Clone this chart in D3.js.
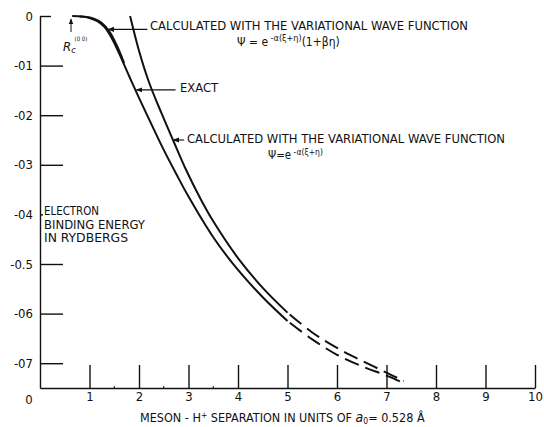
<!DOCTYPE html>
<html>
<head>
<meta charset="utf-8">
<script src="https://cdn.jsdelivr.net/npm/d3@7"></script>
<style>
body { margin: 0; background: #fff; }
svg { display: block; }
text { font-family: 'DejaVu Sans Condensed', 'DejaVu Sans', sans-serif; fill: #111; }
</style>
</head>
<body>
<script>
const w = 544, h = 427

// separation in units of a0 / electron binding energy in rydbergs
const exactX = [0.65, 0.85, 1.0, 1.15, 1.3, 1.45, 1.6, 1.8, 2.0, 2.25, 2.5, 2.75, 3.0, 3.5, 4.0, 4.5, 5.0, 5.5, 6.0, 6.5, 7.0, 7.35]
const exactY = [0, -0.001, -0.004, -0.010, -0.022, -0.045, -0.076, -0.121, -0.165, -0.218, -0.27, -0.318, -0.364, -0.446, -0.512, -0.567, -0.615, -0.652, -0.683, -0.706, -0.725, -0.740]
// psi = e^-a(xi+eta)(1+b eta), drawn only where it separates from the exact curve
const betaX = [0.8, 0.95, 1.1, 1.25, 1.4, 1.55, 1.7]
const betaY = [-0.001, -0.002, -0.006, -0.014, -0.031, -0.059, -0.095]
// psi = e^-a(xi+eta)
const simpleX = [1.82, 2.0, 2.2, 2.45, 2.7, 2.95, 3.25, 3.5, 4.0, 4.5, 5.0, 5.5, 6.0, 6.5, 7.0, 7.35]
const simpleY = [0, -0.07, -0.133, -0.195, -0.253, -0.31, -0.37, -0.414, -0.488, -0.548, -0.598, -0.638, -0.669, -0.695, -0.719, -0.736]
const dashedFrom = 5.0

const xTicks = [1, 2, 3, 4, 5, 6, 7, 8, 9, 10]
const xMinor = [1.5, 2.5, 3.5]
const yTicks = [0, -0.1, -0.2, -0.3, -0.4, -0.5, -0.6, -0.7]
const yTickLabels = ['0', '-01', '-02', '-03', '-04', '-0.5', '-06', '-07']

const svg = d3.select('body').append('svg')
    .attr('width', w)
    .attr('height', h)

const x = d3.scaleLinear().domain([0, 10]).range([40, 535])
const y = d3.scaleLinear().domain([0, -0.75]).range([16, 388])

const defs = svg.append('defs')
defs.append('marker')
    .attr('id', 'arr')
    .attr('viewBox', '0 0 10 10')
    .attr('refX', 9).attr('refY', 5)
    .attr('markerWidth', 6).attr('markerHeight', 6)
    .attr('orient', 'auto-start-reverse')
    .append('path')
    .attr('d', 'M0,1 L10,5 L0,9 z')
    .attr('fill', '#111')

// axes, ticks pointing inwards
const xAxis = d3.axisBottom(x).tickValues(xTicks).tickSizeInner(-23).tickSizeOuter(0).tickPadding(2)
const gx = svg.append('g')
    .attr('transform', `translate(0, ${y(-0.75)})`)
    .call(xAxis)
gx.selectAll('text').attr('font-size', 13).attr('dy', '0.85em')

const yAxis = d3.axisLeft(y).tickValues(yTicks).tickFormat((d, i) => yTickLabels[i])
    .tickSizeInner(-23).tickSizeOuter(0).tickPadding(7)
const gy = svg.append('g')
    .attr('transform', `translate(${x(0)}, 0)`)
    .call(yAxis)
gy.selectAll('text').attr('font-size', 13)
gy.selectAll('.tick line').attr('x2', d => d == 0 ? 11 : d == -0.4 ? 3 : 23)

svg.selectAll('.domain, .tick line').attr('stroke', '#111').attr('stroke-width', 1.4)
svg.selectAll('.tick text').attr('fill', '#111').attr('font-family', "'DejaVu Sans Condensed', sans-serif")

svg.selectAll('.minor')
    .data(xMinor)
    .enter()
    .append('line')
    .attr('x1', d => x(d)).attr('x2', d => x(d))
    .attr('y1', y(-0.75)).attr('y2', y(-0.75) - 2)
    .attr('stroke', '#111')

svg.append('text')
    .attr('x', 29).attr('y', 404)
    .attr('text-anchor', 'middle')
    .attr('font-size', 13)
    .text('0')

// curves
const line = d3.line().x(d => x(d[0])).y(d => y(d[1])).curve(d3.curveCatmullRom)
const exact = exactX.map((v, i) => [v, exactY[i]])
const simple = simpleX.map((v, i) => [v, simpleY[i]])
const beta = betaX.map((v, i) => [v, betaY[i]])

;[exact, simple].forEach(s => {
    svg.append('path')
        .attr('d', line(s.filter(d => d[0] <= dashedFrom)))
        .attr('fill', 'none').attr('stroke', '#111').attr('stroke-width', 2)
    svg.append('path')
        .attr('d', line(s.filter(d => d[0] >= dashedFrom)))
        .attr('fill', 'none').attr('stroke', '#111').attr('stroke-width', 2)
        .attr('stroke-dasharray', '15,7')
        .attr('stroke-dashoffset', -3)
})
svg.append('path')
    .attr('d', line(beta))
    .attr('fill', 'none').attr('stroke', '#111').attr('stroke-width', 2)

// leaders and labels
function leader(tx, ty, len) {
    svg.append('line')
        .attr('x1', x(tx) + 1).attr('y1', y(ty))
        .attr('x2', x(tx) + len).attr('y2', y(ty))
        .attr('stroke', '#111').attr('stroke-width', 1.1)
        .attr('marker-start', 'url(#arr)')
}
leader(1.36, -0.027, 40)
leader(1.93, -0.149, 40)
leader(2.67, -0.25, 12)

svg.append('text')
    .attr('x', 150).attr('y', 30)
    .attr('font-size', 11.5)
    .attr('textLength', 318).attr('lengthAdjust', 'spacingAndGlyphs')
    .text('CALCULATED WITH THE VARIATIONAL WAVE FUNCTION')

let f1 = svg.append('text').attr('x', 237).attr('y', 46).attr('font-size', 12)
f1.append('tspan').text('Ψ = e')
f1.append('tspan').attr('dy', -5).attr('font-size', 9).text(' -α(ξ+η)')
f1.append('tspan').attr('dy', 5).text('(1+βη)')

svg.append('text')
    .attr('x', 180).attr('y', 92)
    .attr('font-size', 11.5)
    .attr('textLength', 38).attr('lengthAdjust', 'spacingAndGlyphs')
    .text('EXACT')

svg.append('text')
    .attr('x', 187).attr('y', 143)
    .attr('font-size', 11.5)
    .attr('textLength', 318).attr('lengthAdjust', 'spacingAndGlyphs')
    .text('CALCULATED WITH THE VARIATIONAL WAVE FUNCTION')

let f2 = svg.append('text').attr('x', 268).attr('y', 159).attr('font-size', 11.5)
f2.append('tspan').text('Ψ=e')
f2.append('tspan').attr('dy', -4).attr('font-size', 8.5).text(' -α(ξ+η)')

// R_c marker
svg.append('line')
    .attr('x1', 71).attr('y1', 32)
    .attr('x2', 71).attr('y2', 19)
    .attr('stroke', '#111').attr('stroke-width', 1)
    .attr('marker-end', 'url(#arr)')
let rc = svg.append('text').attr('x', 63).attr('y', 51).attr('font-size', 13).attr('font-style', 'italic')
rc.append('tspan').text('R')
rc.append('tspan').attr('dy', 2).attr('font-size', 9).text('c')
rc.append('tspan').attr('dy', -12).attr('dx', -1).attr('font-size', 6).attr('font-style', 'normal').text('(0 0)')

// y label
const yLabel = ['ELECTRON', 'BINDING ENERGY', 'IN RYDBERGS']
const yLabelW = [55, 101, 84]
svg.selectAll('.ylab')
    .data(yLabel)
    .enter()
    .append('text')
    .attr('x', 44)
    .attr('y', (d, i) => 215 + i * 13.5)
    .attr('font-size', 11.5)
    .attr('textLength', (d, i) => yLabelW[i]).attr('lengthAdjust', 'spacingAndGlyphs')
    .text(d => d)

// x label
let xl = svg.append('text').attr('x', 140).attr('y', 422).attr('font-size', 12.5)
xl.append('tspan').text('MESON - H')
xl.append('tspan').attr('dy', -4).attr('font-size', 8.5).text('+')
xl.append('tspan').attr('dy', 4).text(' SEPARATION IN UNITS OF ')
xl.append('tspan').attr('font-style', 'italic').attr('font-size', 14).text('a')
xl.append('tspan').attr('dy', 2).attr('font-size', 8.5).text('0')
xl.append('tspan').attr('dy', -2).text('= 0.528 Å')
</script>
</body>
</html>
